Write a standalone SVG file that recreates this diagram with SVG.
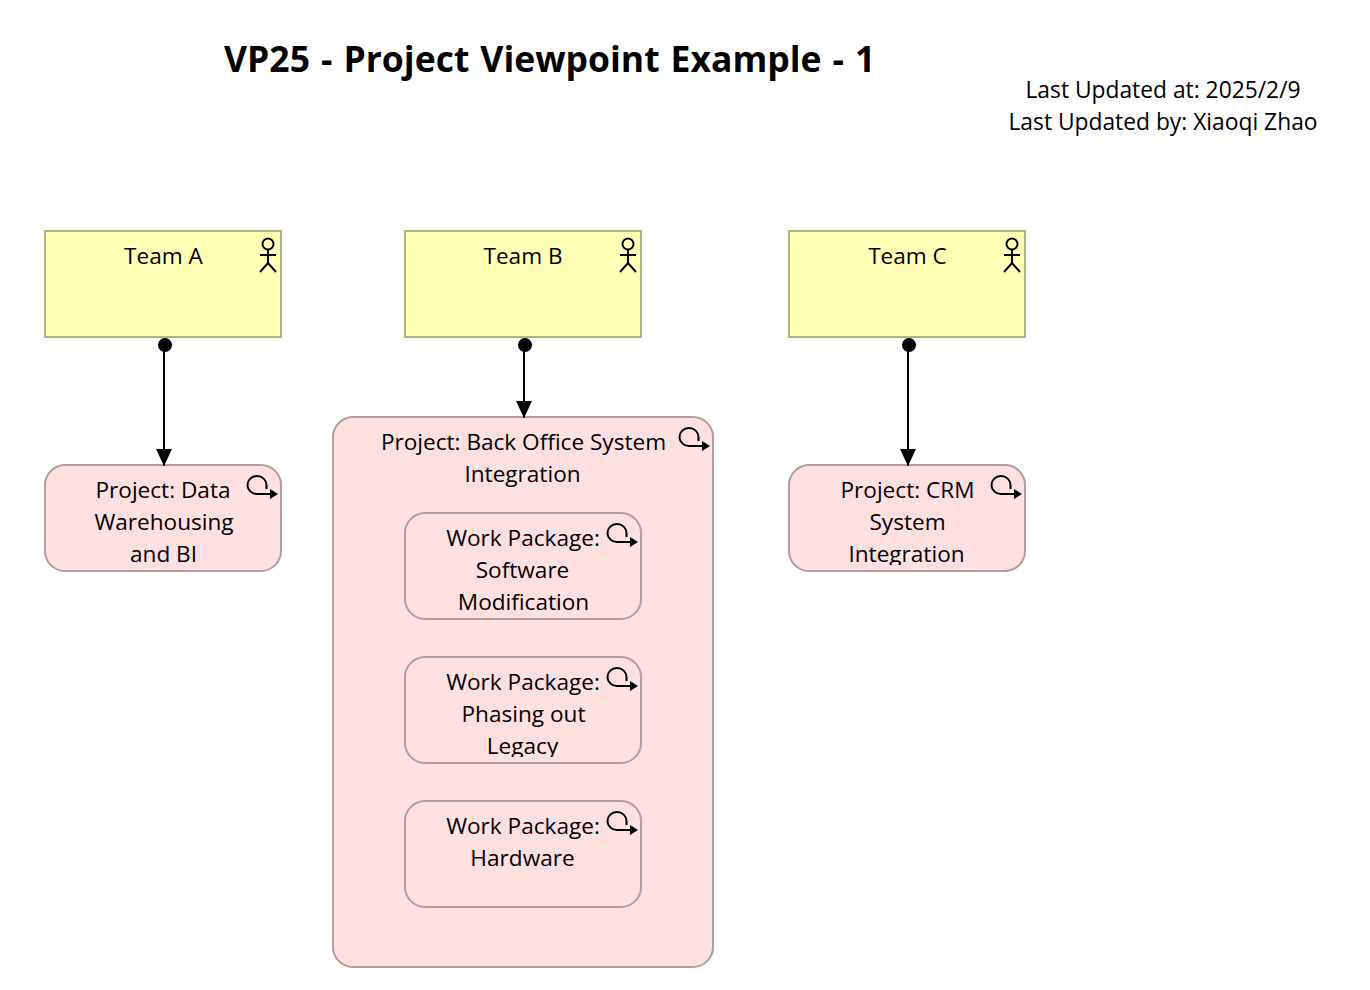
<svg xmlns="http://www.w3.org/2000/svg" width="1370" height="990" viewBox="0 0 1370 990">
<style>
text{font-family:"Open Sans","Noto Sans","Liberation Sans",sans-serif;font-size:22.6px;fill:#000;text-anchor:middle}
.meta{font-size:22.8px}
.title{font-size:35.5px;font-weight:700;text-anchor:start;word-spacing:1.8px}
.actor{fill:#ffffb5;stroke:#b2b27e;stroke-width:2}
.wp{fill:#ffe0e0;stroke:#b29c9c;stroke-width:2}
.ic{fill:none;stroke:#000;stroke-width:2}
.conn{fill:none;stroke:#000;stroke-width:2}
</style>
<defs>
<g id="person"><circle cx="0" cy="6" r="5.5" class="ic"/><path d="M0 11.500V25M-8 17H8M-8 34L0 25L8 34" class="ic"/></g>
<g id="process"><path d="M24 21H10A9.500 9 0 1 1 19.500 12V16" class="ic"/><path d="M23 16L31 21L23 26Z"/></g>
<marker id="arrow" markerUnits="userSpaceOnUse" markerWidth="18" markerHeight="16" refX="17" refY="8" orient="auto"><path d="M0 0L17 8L0 16Z"/></marker>
<clipPath id="c1"><rect x="45" y="465" width="236" height="106"/></clipPath>
<clipPath id="c2"><rect x="789" y="465" width="236" height="100"/></clipPath>
<clipPath id="c3"><rect x="405" y="513" width="236" height="106"/></clipPath>
<clipPath id="c4"><rect x="405" y="657" width="236" height="100"/></clipPath>
</defs>
<text class="title" x="224" y="72">VP25 - Project Viewpoint Example - 1</text>
<text class="meta" x="1163" y="98">Last Updated at: 2025/2/9</text>
<text class="meta" x="1163" y="130">Last Updated by: Xiaoqi Zhao</text>
<g id="team-a"><rect class="actor" x="45" y="231" width="236" height="106"/><text x="163.500" y="264">Team A</text><use href="#person" x="268" y="238"/></g>
<g id="team-b"><rect class="actor" x="405" y="231" width="236" height="106"/><text x="523" y="264">Team B</text><use href="#person" x="628" y="238"/></g>
<g id="team-c"><rect class="actor" x="789" y="231" width="236" height="106"/><text x="907.500" y="264">Team C</text><use href="#person" x="1012" y="238"/></g>
<g id="project-data"><rect class="wp" x="45" y="465" width="236" height="106" rx="20"/><g clip-path="url(#c1)"><text x="163" y="498">Project: Data</text><text x="164" y="530">Warehousing</text><text x="163.500" y="562">and BI</text></g><use href="#process" x="247" y="473"/></g>
<g id="project-crm"><rect class="wp" x="789" y="465" width="236" height="106" rx="20"/><g clip-path="url(#c2)"><text x="907.500" y="498">Project: CRM</text><text x="907.500" y="530">System</text><text x="906.500" y="562">Integration</text></g><use href="#process" x="991" y="473"/></g>
<g id="project-back-office"><rect class="wp" x="333" y="417" width="380" height="550" rx="20"/><text x="523.500" y="450">Project: Back Office System</text><text x="522.500" y="482">Integration</text><use href="#process" x="679" y="425"/></g>
<g id="wp-software"><rect class="wp" x="405" y="513" width="236" height="106" rx="20"/><g clip-path="url(#c3)"><text x="523" y="546">Work Package:</text><text x="522.500" y="578">Software</text><text x="523.500" y="610">Modification</text></g><use href="#process" x="607" y="521"/></g>
<g id="wp-phasing"><rect class="wp" x="405" y="657" width="236" height="106" rx="20"/><g clip-path="url(#c4)"><text x="523" y="690">Work Package:</text><text x="523.500" y="722">Phasing out</text><text x="522.500" y="754">Legacy</text></g><use href="#process" x="607" y="665"/></g>
<g id="wp-hardware"><rect class="wp" x="405" y="801" width="236" height="106" rx="20"/><text x="523" y="834">Work Package:</text><text x="522.500" y="866">Hardware</text><use href="#process" x="607" y="809"/></g>
<g id="connectors">
<circle cx="165" cy="345" r="7"/><path class="conn" d="M164 345V466" marker-end="url(#arrow)"/>
<circle cx="525" cy="345" r="7"/><path class="conn" d="M524 345V418" marker-end="url(#arrow)"/>
<circle cx="909" cy="345" r="7"/><path class="conn" d="M908 345V466" marker-end="url(#arrow)"/>
</g>
</svg>
